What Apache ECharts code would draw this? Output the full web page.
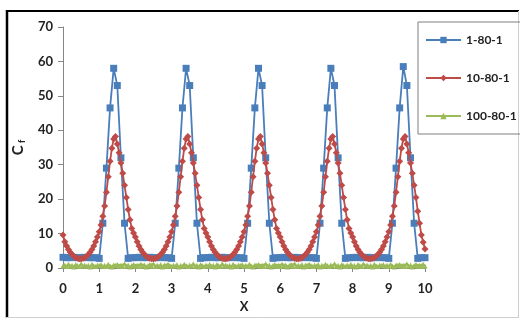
<!DOCTYPE html>
<html>
<head>
<meta charset="utf-8">
<script src="https://cdn.jsdelivr.net/npm/echarts@6/dist/echarts.min.js"></script>
<style>
html,body{margin:0;padding:0;background:#fff;}
#c{width:520px;height:320px;}
</style>
</head>
<body>
<div id="c"></div>
<script>
// ---- data ----
var seriesNames = ['1-80-1', '10-80-1', '100-80-1'];
var xTicks = [0,1,2,3,4,5,6,7,8,9,10];
var yTicks = [0,10,20,30,40,50,60,70];

// 1-80-1 : sampled every 0.1 from 0 to 10
var blueStep = 0.1;
var blueY = [
  3.1,3.0,3.0,3.1,3.0,3.0,3.1,3.0,3.0,3.0, 2.8,13,29,46.5,58,53,32,13,2.8,3.0,
  3.0,3.1,3.0,3.0,3.1,3.0,3.0,3.1,3.0,3.0, 2.8,13,29,46.5,58,53,32,13,2.8,3.0,
  3.0,3.1,3.0,3.0,3.1,3.0,3.0,3.1,3.0,3.0, 2.8,13,29,46.5,58,53,32,13,2.8,3.0,
  3.0,3.1,3.0,3.0,3.1,3.0,3.0,3.1,3.0,3.0, 2.8,13,29,46.5,58,53,32,13,2.8,3.0,
  3.0,3.1,3.0,3.0,3.1,3.0,3.0,3.1,3.0,3.0, 2.8,13,29,46.5,58.5,53,32,13,2.8,3.0,
  3.0
];

// 10-80-1 : sampled every 0.05 from 0 to 10
var redStep = 0.05;
var redY = [
  9.6,7.6,6.4,5.4,4.6,3.9,3.4,3.0,2.8,2.7,2.7,2.8,3.0,3.4,3.9,4.6,5.4,6.4,7.6,9.0,
  10.5,12.5,15,18,22,26.5,31,34.8,37.5,38.2,36,33.5,30.5,27.5,24,20.5,17,14,11.5,10.2,
  9.0,7.6,6.4,5.4,4.6,3.9,3.4,3.0,2.8,2.7,2.7,2.8,3.0,3.4,3.9,4.6,5.4,6.4,7.6,9.0,
  10.5,12.5,15,18,22,26.5,31,34.8,37.5,38.2,36,33.5,30.5,27.5,24,20.5,17,14,11.5,10.2,
  9.0,7.6,6.4,5.4,4.6,3.9,3.4,3.0,2.8,2.7,2.7,2.8,3.0,3.4,3.9,4.6,5.4,6.4,7.6,9.0,
  10.5,12.5,15,18,22,26.5,31,34.8,37.5,38.2,36,33.5,30.5,27.5,24,20.5,17,14,11.5,10.2,
  9.0,7.6,6.4,5.4,4.6,3.9,3.4,3.0,2.8,2.7,2.7,2.8,3.0,3.4,3.9,4.6,5.4,6.4,7.6,9.0,
  10.5,12.5,15,18,22,26.5,31,34.8,37.5,38.2,36,33.5,30.5,27.5,24,20.5,17,14,11.5,10.2,
  9.0,7.6,6.4,5.4,4.6,3.9,3.4,3.0,2.8,2.7,2.7,2.8,3.0,3.4,3.9,4.6,5.4,6.4,7.6,9.0,
  10.5,12.5,15,18,22,26.5,31,34.8,37.5,38.2,36,33.5,30.5,27.5,24,20.5,16.5,13,9.6,7.5,
  5.5
];

// 100-80-1 : sampled every 0.05 from 0 to 10
var greenStep = 0.05;
var greenY = [
  0.6,0.9,0.4,1.1,0.5,0.8,0.3,1.0,0.7,0.4,1.2,0.6,0.9,0.5,0.8,0.3,1.1,0.6,0.4,0.9,
  0.7,1.0,0.5,0.8,0.4,1.1,0.6,0.3,0.9,0.7,1.0,0.5,0.8,0.4,1.2,0.6,0.9,0.3,0.7,1.0,
  0.5,0.8,0.4,1.1,0.6,0.9,0.3,0.7,1.0,0.5,1.2,0.4,0.8,0.6,1.0,0.3,0.9,0.5,1.1,0.7,
  0.4,0.9,0.6,1.0,0.3,0.8,0.5,1.1,0.7,0.4,0.9,0.6,1.2,0.5,0.8,0.3,1.0,0.7,0.4,0.9,
  0.6,1.1,0.5,0.8,0.3,1.0,0.7,0.4,1.2,0.6,0.9,0.5,0.8,0.3,1.1,0.6,0.4,0.9,0.7,1.0,
  0.5,0.8,0.4,1.1,0.6,0.3,0.9,0.7,1.0,0.5,0.8,0.4,1.2,0.6,0.9,0.3,0.7,1.0,0.5,0.8,
  0.4,1.1,0.6,0.9,0.3,0.7,1.0,0.5,1.2,0.4,0.8,0.6,1.0,0.3,0.9,0.5,1.1,0.7,0.4,0.9,
  0.6,1.0,0.3,0.8,0.5,1.1,0.7,0.4,0.9,0.6,1.2,0.5,0.8,0.3,1.0,0.7,0.4,0.9,0.6,1.1,
  0.5,0.8,0.3,1.0,0.7,0.4,1.2,0.6,0.9,0.5,0.8,0.3,1.1,0.6,0.4,0.9,0.7,1.0,0.5,0.8,
  0.4,1.1,0.6,0.3,0.9,0.7,1.0,0.5,0.8,0.4,1.2,0.6,0.9,0.3,0.7,1.0,0.5,0.8,0.4,1.1,
  0.6
];

function pairs(step, ys){
  var out = [];
  for (var i = 0; i < ys.length; i++) out.push([+(i*step).toFixed(3), ys[i]]);
  return out;
}

var chart = echarts.init(document.getElementById('c'), null, {renderer:'canvas'});
var FONT = 'Lato';
var option = {
  animation: false,
  backgroundColor: '#fff',
  grid: {left: 63, right: 95, top: 27, bottom: 52, containLabel: false},
  xAxis: {
    type: 'value', min: 0, max: 10, interval: 1,
    name: 'X', nameLocation: 'middle', nameGap: 29,
    nameTextStyle: {fontFamily: FONT, fontWeight: 'bold', fontSize: 13, color: '#222'},
    axisLine: {show: true, lineStyle: {color: '#868686', width: 1}},
    axisTick: {show: true, length: 4, inside: false, lineStyle: {color: '#868686'}},
    axisLabel: {margin: 14, fontFamily: FONT, fontWeight: 'bold', fontSize: 13, color: '#222',
      formatter: function(v){ return xTicks.indexOf(v) >= 0 ? String(v) : ''; }},
    splitLine: {show: false}
  },
  yAxis: {
    type: 'value', min: 0, max: 70, interval: 10,
    name: '{c|C}{f| f}', nameLocation: 'middle', nameGap: 36, nameRotate: 90,
    nameTextStyle: {
      rich: {
        c: {fontFamily: FONT, fontWeight: 'bold', fontSize: 15, color: '#222'},
        f: {fontFamily: FONT, fontWeight: 'bold', fontSize: 9, color: '#222', padding: [9,0,0,0]}
      }
    },
    axisLine: {show: true, lineStyle: {color: '#868686', width: 1}},
    axisTick: {show: true, length: 5, inside: false, lineStyle: {color: '#868686'}},
    axisLabel: {margin: 10, fontFamily: FONT, fontWeight: 'bold', fontSize: 13, color: '#222',
      formatter: function(v){ return yTicks.indexOf(v) >= 0 ? String(v) : ''; }},
    splitLine: {show: false}
  },
  legend: {
    orient: 'vertical', left: 418, top: 22,
    padding: [12, 6, 12, 7], itemGap: 26, itemWidth: 35, itemHeight: 8,
    borderColor: '#7f7f7f', borderWidth: 1,
    textStyle: {fontFamily: FONT, fontWeight: 'bold', fontSize: 12, color: '#222'},
    data: seriesNames
  },
  series: [
    {
      name: seriesNames[2], type: 'line', data: pairs(greenStep, greenY),
      symbol: 'triangle', symbolSize: 5, showAllSymbol: true,
      lineStyle: {color: '#9bbb59', width: 2},
      itemStyle: {color: '#9bbb59'}, z: 2
    },
    {
      name: seriesNames[0], type: 'line', data: pairs(blueStep, blueY),
      symbol: 'rect', symbolSize: 7, showAllSymbol: true,
      lineStyle: {color: '#4a7ebb', width: 1.8},
      itemStyle: {color: '#4a7ebb'}, z: 3
    },
    {
      name: seriesNames[1], type: 'line', data: pairs(redStep, redY),
      symbol: 'diamond', symbolSize: 7, showAllSymbol: true,
      lineStyle: {color: '#be4b48', width: 1.8},
      itemStyle: {color: '#be4b48'}, z: 4
    }
  ],
  graphic: [
    {type: 'line', shape: {x1: 7, y1: 10, x2: 7, y2: 318}, style: {stroke: '#000', lineWidth: 2.5}},
    {type: 'line', shape: {x1: 6, y1: 11, x2: 519, y2: 11}, style: {stroke: '#000', lineWidth: 2}},
    {type: 'line', shape: {x1: 518.5, y1: 11, x2: 518.5, y2: 318}, style: {stroke: '#cfcfcf', lineWidth: 1}},
    {type: 'line', shape: {x1: 6, y1: 317.5, x2: 519, y2: 317.5}, style: {stroke: '#cfcfcf', lineWidth: 1}}
  ]
};
chart.setOption(option);
</script>
</body>
</html>
